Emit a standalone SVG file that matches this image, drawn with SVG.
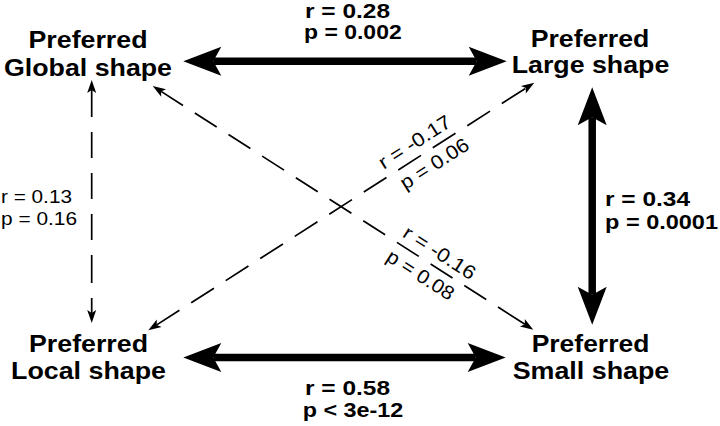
<svg xmlns="http://www.w3.org/2000/svg" width="720" height="426" viewBox="0 0 720 426">
<style>
.node{font-family:"Liberation Sans",Arial,sans-serif;font-weight:bold;font-size:23px;fill:#000;text-anchor:middle}
.bstat{font-family:"Liberation Sans",Arial,sans-serif;font-weight:bold;font-size:20.5px;fill:#000}
.stat{font-family:"Liberation Sans",Arial,sans-serif;font-size:18.5px;fill:#000}
.rot{font-family:"Liberation Sans",Arial,sans-serif;font-size:19.5px;fill:#000;text-anchor:middle}
.thick{stroke:#000;stroke-width:7.5;fill:none}
.thin{stroke:#000;stroke-width:1.7;fill:none}
</style>
<defs>
<marker id="bigHead" markerUnits="userSpaceOnUse" viewBox="-10 -16 42 32" refX="0" refY="0" markerWidth="42" markerHeight="32" orient="auto-start-reverse">
<path d="M30,0 L-8,-14.5 L0,0 L-8,14.5 Z" fill="#000"/>
</marker>
<marker id="smallHead" markerUnits="userSpaceOnUse" viewBox="-5 -6 17 12" refX="0" refY="0" markerWidth="17" markerHeight="12" orient="auto-start-reverse">
<path d="M10,0 L-3,-4.5 L0,0 L-3,4.5 Z" fill="#000"/>
</marker>
</defs>
<rect width="720" height="426" fill="#fff"/>
<g id="connectors">
<path class="thick" d="M213.3,61.3 L476.7,61.3" marker-start="url(#bigHead)" marker-end="url(#bigHead)"/>
<path class="thick" d="M213.3,357.5 L475.7,357.5" marker-start="url(#bigHead)" marker-end="url(#bigHead)"/>
<path class="thick" d="M592.2,117.3 L592.2,294.7" marker-start="url(#bigHead)" marker-end="url(#bigHead)"/>
<path class="thin" d="M91.7,90 L91.7,313" stroke-dasharray="27 15 26 15 26 15 26 15 28 15 15" marker-start="url(#smallHead)" marker-end="url(#smallHead)"/>
<path class="thin" d="M161.1,91.4 L524.9,324.3" stroke-dasharray="26 14 26 14 26 14 26 14 26 14 26 14 26 14 26 14 26 14 26 14 32 100" marker-start="url(#smallHead)" marker-end="url(#smallHead)"/>
<path class="thin" d="M156.7,324.9 L525.9,88.1" stroke-dasharray="27 14 27 14 27 14 27 14 27 14 27 14 27 14 27 14 27 14 27 14 28 100" marker-start="url(#smallHead)" marker-end="url(#smallHead)"/>
</g>
<g id="global">
<text class="node" x="88" y="47.5" textLength="119" lengthAdjust="spacingAndGlyphs">Preferred</text>
<text class="node" x="88" y="75.5" textLength="168" lengthAdjust="spacingAndGlyphs">Global shape</text>
</g>
<g id="large">
<text class="node" x="590" y="46.5" textLength="118.6" lengthAdjust="spacingAndGlyphs">Preferred</text>
<text class="node" x="590.5" y="73" textLength="157.6" lengthAdjust="spacingAndGlyphs">Large shape</text>
</g>
<g id="local">
<text class="node" x="88.5" y="351.5" textLength="119" lengthAdjust="spacingAndGlyphs">Preferred</text>
<text class="node" x="88.5" y="378.7" textLength="155" lengthAdjust="spacingAndGlyphs">Local shape</text>
</g>
<g id="small">
<text class="node" x="590.5" y="351.5" textLength="117.6" lengthAdjust="spacingAndGlyphs">Preferred</text>
<text class="node" x="591" y="378.7" textLength="156.6" lengthAdjust="spacingAndGlyphs">Small shape</text>
</g>
<g id="labels">
<text class="bstat" x="305" y="18" textLength="85" lengthAdjust="spacingAndGlyphs">r = 0.28</text>
<text class="bstat" x="304" y="39" textLength="97.7" lengthAdjust="spacingAndGlyphs">p = 0.002</text>
<text class="bstat" x="305" y="395" textLength="85" lengthAdjust="spacingAndGlyphs">r = 0.58</text>
<text class="bstat" x="302.7" y="416.7" textLength="100.6" lengthAdjust="spacingAndGlyphs">p &lt; 3e-12</text>
<text class="bstat" x="605" y="205.5" textLength="85" lengthAdjust="spacingAndGlyphs">r = 0.34</text>
<text class="bstat" x="605" y="229" textLength="113" lengthAdjust="spacingAndGlyphs">p = 0.0001</text>
<text class="stat" x="1" y="203" textLength="71" lengthAdjust="spacingAndGlyphs">r = 0.13</text>
<text class="stat" x="1" y="225" textLength="76" lengthAdjust="spacingAndGlyphs">p = 0.16</text>
<g transform="translate(425,152.7) rotate(-32.7)">
<text class="rot" x="-3" y="-8" textLength="82" lengthAdjust="spacingAndGlyphs">r = -0.17</text>
<text class="rot" x="2" y="21" textLength="78" lengthAdjust="spacingAndGlyphs">p = 0.06</text>
</g>
<g transform="translate(430,264) rotate(32.7)">
<text class="rot" x="2" y="-8" textLength="82" lengthAdjust="spacingAndGlyphs">r = -0.16</text>
<text class="rot" x="-2" y="21" textLength="76" lengthAdjust="spacingAndGlyphs">p = 0.08</text>
</g>
</g>
</svg>
